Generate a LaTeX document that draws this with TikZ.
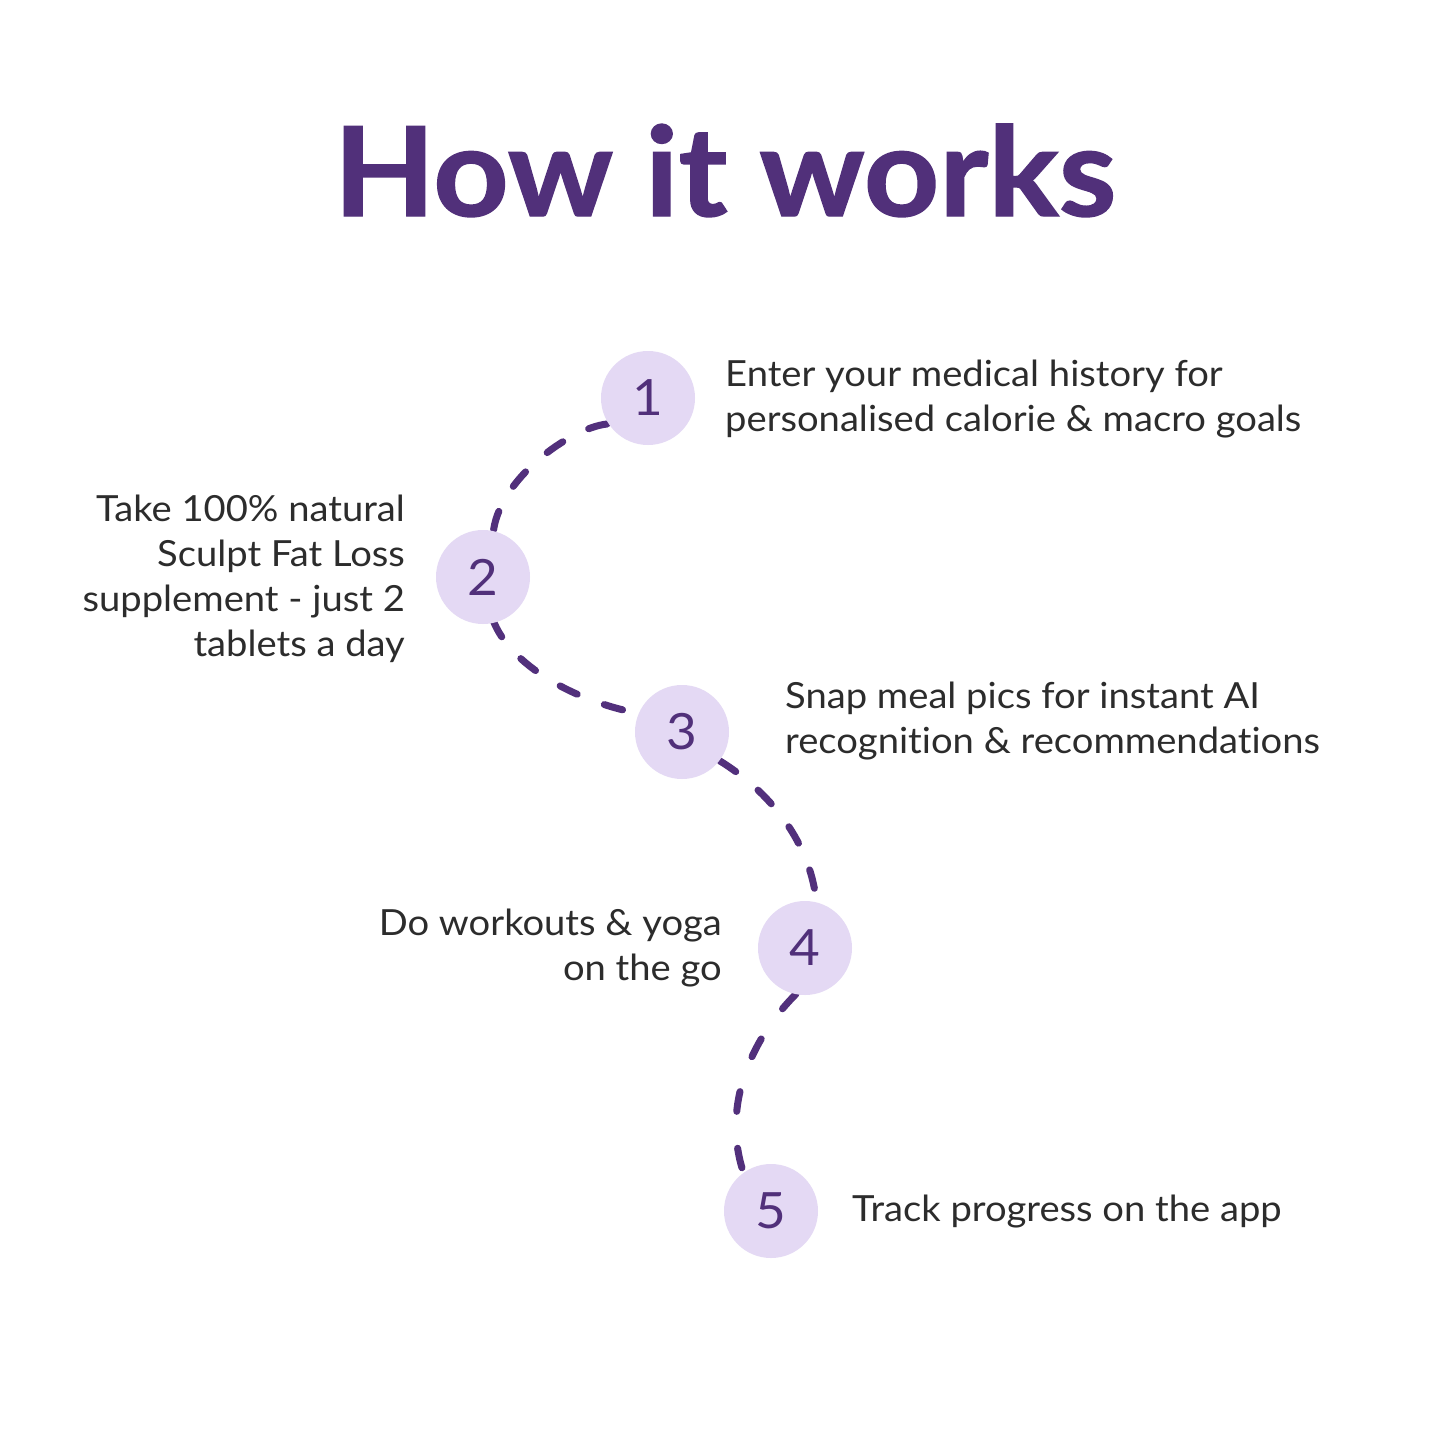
\documentclass[tikz,border=0pt]{standalone}
\usepackage{fontspec}
\setmainfont{Lato}[Ligatures=NoCommon,FakeStretch=1.06]
\newfontfamily\titlefont{Lato}[Ligatures=NoCommon,FakeStretch=1.06,BoldFeatures={FakeBold=1.2}]
\definecolor{titlepurple}{HTML}{51307A}
\definecolor{dashpurple}{HTML}{52307C}
\definecolor{circfill}{HTML}{E4D9F4}
\definecolor{bodytext}{HTML}{2C2C2C}
\begin{document}
\begin{tikzpicture}[x=1pt,y=-1pt,
  stepcircle/.style={circle,fill=circfill,minimum size=94pt,inner sep=0pt,
    text=titlepurple,font=\fontsize{50}{50}\selectfont},
  bodyleft/.style={anchor=north west,inner sep=0pt,align=left,text=bodytext,
    font=\fontsize{36}{45}\selectfont},
  bodyright/.style={anchor=north east,inner sep=0pt,align=right,text=bodytext,
    font=\fontsize{36}{45}\selectfont},
  dashline/.style={draw=dashpurple,line width=7pt,line cap=round,
    dash pattern=on 19pt off 29pt}]
\useasboundingbox[fill=white] (0,0) rectangle (1445,1445);
\node[anchor=base,inner sep=0pt,text=titlepurple,font=\titlefont\fontsize{124}{124}\selectfont\bfseries] (title) at (725,216) {How it works};
% connectors
\coordinate (a1) at (607,424);
\coordinate (a2) at (493,535);
\coordinate (b1) at (493,620);
\coordinate (b2) at (642,714);
\coordinate (c1) at (720,761);
\coordinate (c2) at (817,912);
\coordinate (d1) at (796,994);
\coordinate (d2) at (742,1168);
\draw[dashline] (a1) .. controls (570,428) and (497,480) .. (a2);
\draw[dashline] (b1) .. controls (510,665) and (575,702) .. (b2);
\draw[dashline] (c1) .. controls (775,795) and (815,850) .. (c2);
\draw[dashline,dash pattern=on 20pt off 37pt] (d1) .. controls (755,1035) and (722,1100) .. (d2);
% circles
\node[stepcircle] (s1) at (648,398) {1};
\node[stepcircle] (s2) at (483,577) {2};
\node[stepcircle] (s3) at (682,732) {3};
\node[stepcircle] (s4) at (805,948) {4};
\node[stepcircle] (s5) at (771,1211) {5};
% texts
\node[bodyleft] (t1) at (725,360) {Enter your medical history for\\personalised calorie \& macro goals};
\node[bodyright] (t2) at (405,495) {Take 100\% natural\\Sculpt Fat Loss\\supplement - just 2\\tablets a day};
\node[bodyleft] (t3) at (785,682) {Snap meal pics for instant AI\\recognition \& recommendations};
\node[bodyright] (t4) at (722,909) {Do workouts \& yoga\\on the go};
\node[bodyleft] (t5) at (852,1195) {Track progress on the app};
\end{tikzpicture}
\end{document}
